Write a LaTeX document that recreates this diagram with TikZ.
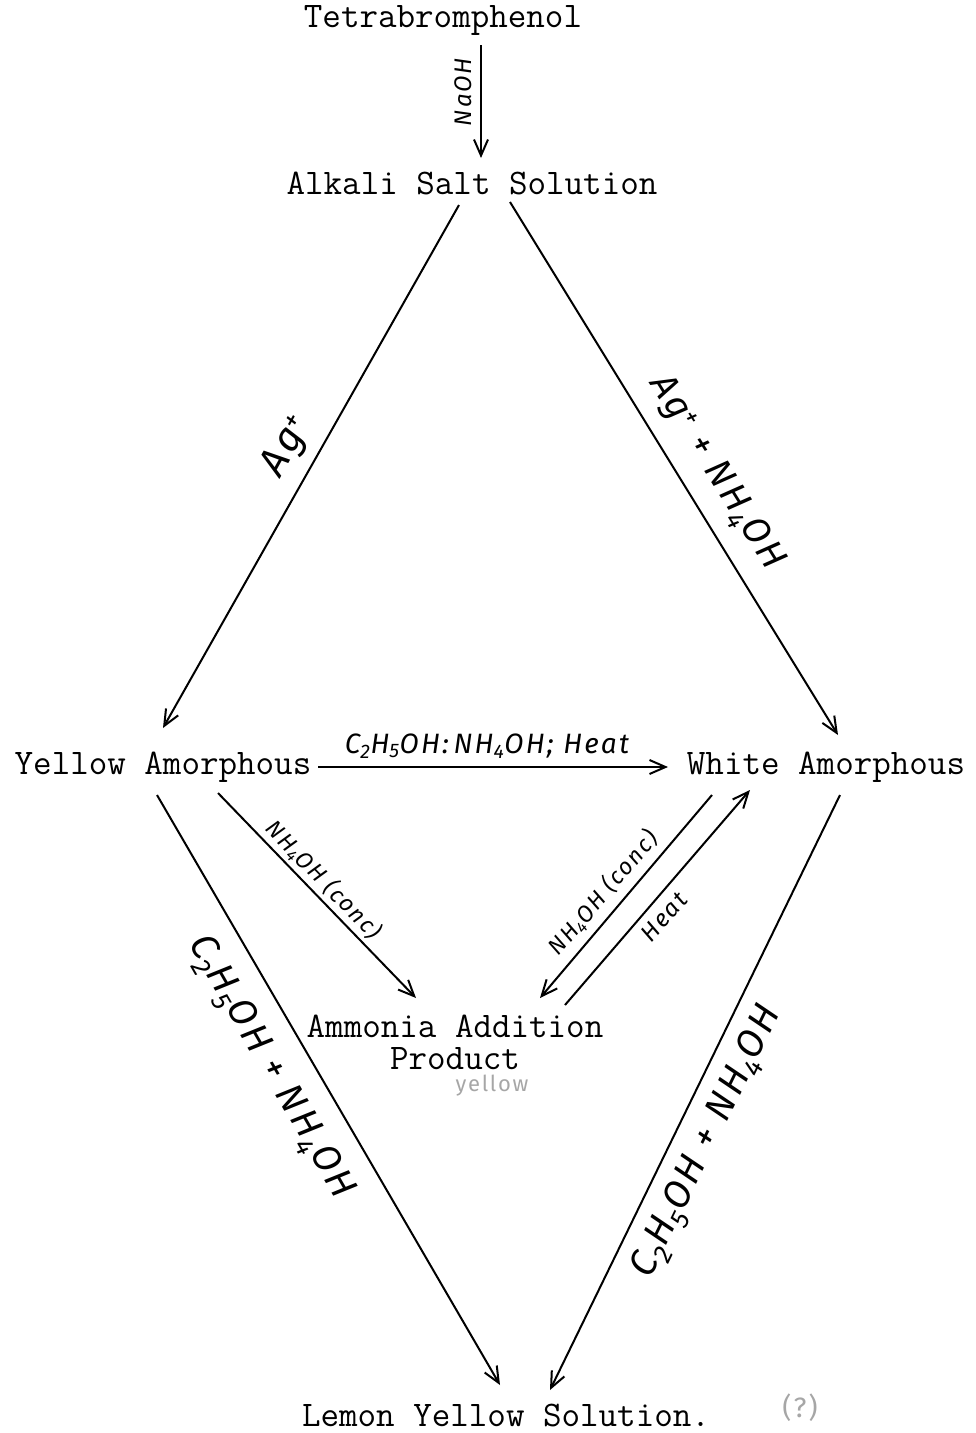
\documentclass[tikz,border=0pt]{standalone}
\usepackage{fontspec}
\newfontfamily\hand{Fira Sans}[LetterSpace=8]
\usetikzlibrary{arrows.meta,calc}
\begin{document}
\begin{tikzpicture}[x=1pt,y=-1pt,
  tw/.style={font=\fontsize{36}{32}\selectfont\ttfamily, inner sep=0pt},
  arr/.style={line width=2pt, -{Straight Barb[length=16pt,width=14pt,line width=2pt]}},
  hw/.style={font=\hand\itshape\fontsize{#1}{#1}\selectfont, inner sep=0pt},
  pencil/.style={text=black!35, font=\hand\fontsize{#1}{#1}\selectfont, inner sep=0pt}]
\useasboundingbox (0,0) rectangle (976,1433);

% typed nodes
\node[tw] (tet) at (443,20) {Tetrabromphenol};
\node[tw] (alk) at (472,183) {Alkali Salt Solution};
\node[tw] (yel) at (163,767) {Yellow Amorphous};
\node[tw] (whi) at (826,767) {White Amorphous};
\node[tw,align=center] (amm) at (455,1042) {Ammonia Addition\\Product};
\node[tw] (lem) at (506,1415) {Lemon Yellow Solution.};

% connectors
\draw[arr] ($(tet)+(38,25)$) -- ($(alk)+(9,-25)$);
\draw[arr] ($(alk)+(-13,22)$) -- ($(yel)+(0,-39)$);
\draw[arr] ($(alk)+(38,19)$) -- ($(whi)+(12,-32)$);
\draw[arr] ($(yel)+(155,0)$) -- ($(whi)+(-158,0)$);
\draw[arr] ($(yel)+(55,26)$) -- ($(amm)+(-39,-44)$);
\draw[arr] ($(yel)+(-6,28)$) -- ($(lem)+(-6,-30)$);
\draw[arr] ($(whi)+(-114,28)$) -- ($(amm)+(85,-44)$);
\draw[arr] ($(amm)+(110,-37)$) -- ($(whi)+(-76,23)$);
\draw[arr] ($(whi)+(14,28)$) -- ($(lem)+(44,-25)$);

% handwritten labels
\node[hw=24, rotate=90] (l1) at (463,92) {NaOH};
\node[hw=40, rotate=61] (l2) at (288,446) {Ag\textsuperscript{+}};
\node[hw=37, rotate=-58] (l3) at (716,473) {Ag\textsuperscript{+} + NH\textsubscript{4}OH};
\node[hw=28] (l4) at (487,746) {C\textsubscript{2}H\textsubscript{5}OH:\,NH\textsubscript{4}OH; Heat};
\node[hw=23, rotate=-46] (l5) at (324,880) {NH\textsubscript{4}OH (conc)};
\node[hw=38, rotate=-60] (l6) at (270,1068) {C\textsubscript{2}H\textsubscript{5}OH + NH\textsubscript{4}OH};
\node[hw=23, rotate=49.5] (l7) at (603,893) {NH\textsubscript{4}OH (conc)};
\node[hw=24, rotate=49] (l8) at (664,917) {Heat};
\node[hw=38, rotate=64] (l9) at (708,1142) {C\textsubscript{2}H\textsubscript{5}OH + NH\textsubscript{4}OH};

% pencil notes
\node[pencil=22] (p1) at (492,1086) {yellow};
\node[pencil=28] (p2) at (800,1408) {(?)};
\end{tikzpicture}
\end{document}
